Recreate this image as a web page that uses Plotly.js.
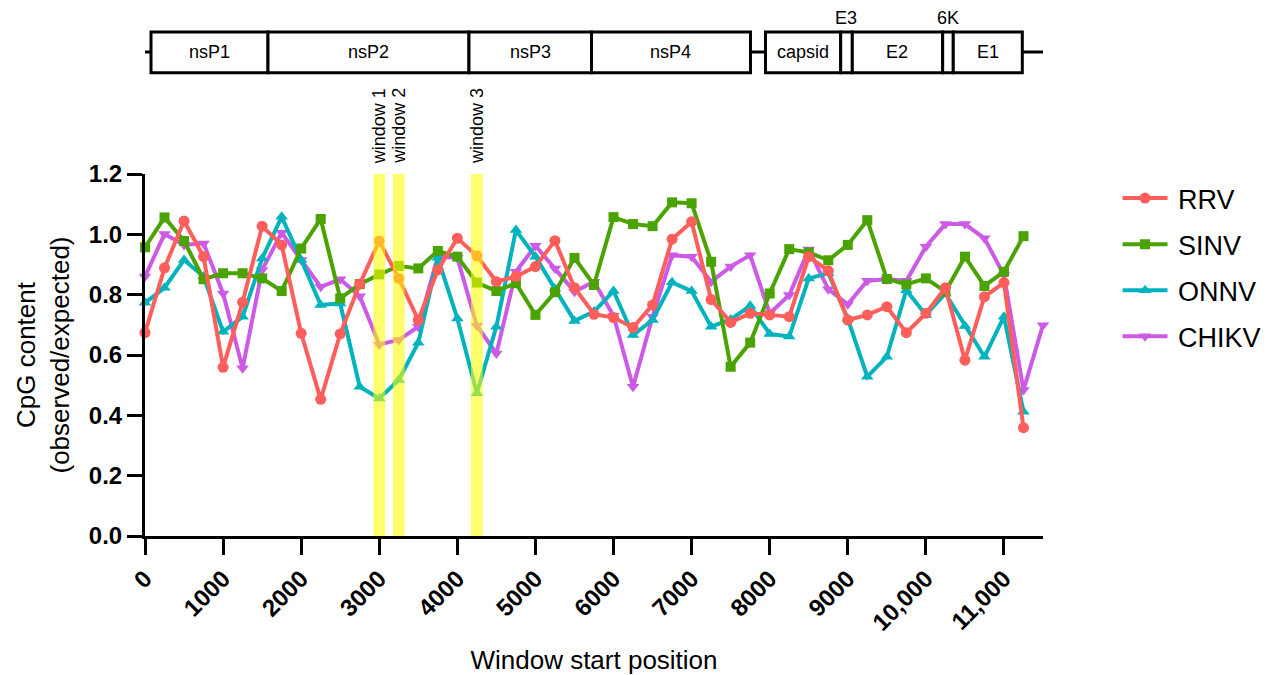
<!DOCTYPE html>
<html>
<head>
<meta charset="utf-8">
<script src="https://cdn.plot.ly/plotly-3.0.1.min.js"></script>
<style>html,body{margin:0;padding:0;background:#fff;}#chart{width:1284px;height:675px;}</style>
</head>
<body>
<div id="chart"></div>
<script>
// ---- data ----
const positions = [0,250,500,750,1000,1250,1500,1750,2000,2250,2500,2750,3000,3250,3500,3750,4000,4250,4500,4750,5000,5250,5500,5750,6000,6250,6500,6750,7000,7250,7500,7750,8000,8250,8500,8750,9000,9250,9500,9750,10000,10250,10500,10750,11000,11250];
const positionsCHIKV = [0,250,500,750,1000,1250,1500,1750,2000,2250,2500,2750,3000,3250,3500,3750,4000,4250,4500,4750,5000,5250,5500,5750,6000,6250,6500,6750,7000,7250,7500,7750,8000,8250,8500,8750,9000,9250,9500,9750,10000,10250,10500,10750,11000,11250,11500];

const RRV = [0.674,0.889,1.044,0.926,0.559,0.775,1.027,0.965,0.672,0.453,0.670,0.835,0.978,0.854,0.716,0.882,0.987,0.929,0.843,0.860,0.893,0.979,0.823,0.735,0.724,0.691,0.766,0.984,1.042,0.784,0.708,0.738,0.733,0.727,0.926,0.879,0.716,0.733,0.760,0.674,0.738,0.823,0.583,0.793,0.840,0.359];
const SINV = [0.957,1.056,0.978,0.851,0.871,0.871,0.854,0.812,0.953,1.051,0.788,0.835,0.867,0.895,0.887,0.945,0.926,0.840,0.812,0.838,0.733,0.808,0.922,0.832,1.057,1.034,1.027,1.106,1.103,0.909,0.561,0.641,0.804,0.951,0.940,0.914,0.965,1.047,0.852,0.834,0.854,0.810,0.926,0.829,0.876,0.994];
const ONNV = [0.773,0.823,0.915,0.860,0.677,0.727,0.920,1.058,0.915,0.766,0.771,0.495,0.456,0.517,0.641,0.922,0.721,0.473,0.694,1.014,0.926,0.820,0.713,0.744,0.812,0.666,0.716,0.841,0.812,0.694,0.718,0.763,0.670,0.661,0.854,0.871,0.720,0.528,0.594,0.815,0.733,0.804,0.696,0.594,0.727,0.412];
const CHIKV = [0.860,1.001,0.965,0.970,0.804,0.556,0.882,1.005,0.915,0.826,0.851,0.795,0.635,0.650,0.694,0.926,0.922,0.697,0.605,0.876,0.962,0.887,0.810,0.843,0.730,0.495,0.727,0.931,0.926,0.843,0.893,0.931,0.738,0.799,0.950,0.818,0.768,0.846,0.851,0.846,0.959,1.034,1.034,0.987,0.865,0.484,0.699];

const seriesNames = ['RRV','SINV','ONNV','CHIKV'];

const xTickVals = [0,1000,2000,3000,4000,5000,6000,7000,8000,9000,10000,11000];
const xTickText = ['0','1000','2000','3000','4000','5000','6000','7000','8000','9000','10,000','11,000'];

const windowNames = ['window 1','window 2','window 3'];
const windowStarts = [3000,3250,4250];
const windowWidth = 150;

// genome map segments (genome coordinates)
const geneNames  = ['nsP1','nsP2','nsP3','nsP4','capsid','E3','E2','6K','E1'];
const geneStarts = [77,1575,4149,5718,7946,8909,9058,10215,10351];
const geneEnds   = [1575,4149,5718,7754,8909,9058,10215,10351,11235];
const genomeStart = -40;
const genomeEnd = 11547;
const smallLabelGenes = ['E3','6K'];

// ---- styling ----
const FONT = 'Liberation Sans, Arial, Helvetica, sans-serif';
const colors = {RRV:'#FF5E5B', SINV:'#4AA300', ONNV:'#00B3BC', CHIKV:'#CC5AE6'};

function mk(name, xs, ys, symbol, size){
  return {
    x: xs, y: ys, name: '\u2009' + name, type: 'scatter', mode: 'lines+markers',
    legendgroup: name, legendrank: seriesNames.indexOf(name) + 1,
    cliponaxis: false,
    line: {color: colors[name], width: 4},
    marker: {color: colors[name], symbol: symbol, size: size}
  };
}
const traces = [
  mk('CHIKV', positionsCHIKV, CHIKV, 'triangle-down', 11),
  mk('ONNV', positions, ONNV, 'triangle-up', 11),
  mk('SINV', positions, SINV, 'square', 10),
  mk('RRV', positions, RRV, 'circle', 11)
];

const shapes = [];
const annotations = [];
const yTop = 1.392, yBot = 1.280, yMid = 1.337;

// backbone line
shapes.push({type:'line', xref:'x', yref:'paper', x0:genomeStart, x1:genomeEnd, y0:yMid, y1:yMid, line:{color:'black', width:3}, layer:'above'});
for (let i = 0; i < geneNames.length; i++) {
  shapes.push({type:'rect', xref:'x', yref:'paper', x0:geneStarts[i], x1:geneEnds[i], y0:yBot, y1:yTop, fillcolor:'white', line:{color:'black', width:3}, layer:'above'});
  const small = smallLabelGenes.includes(geneNames[i]);
  annotations.push({
    text: geneNames[i], xref:'x', yref:'paper', x:(geneStarts[i]+geneEnds[i])/2,
    y: small ? 1.432 : yMid, showarrow:false, yanchor:'middle',
    font:{family:FONT, size:18, color:'black'}
  });
}
// highlighted windows
for (let i = 0; i < windowStarts.length; i++) {
  shapes.push({type:'rect', xref:'x', yref:'y', x0:windowStarts[i]-windowWidth/2, x1:windowStarts[i]+windowWidth/2, y0:0, y1:1.2, fillcolor:'rgba(255,255,0,0.58)', line:{width:0}, layer:'above'});
  annotations.push({
    text: windowNames[i], xref:'x', yref:'paper', x:windowStarts[i], y:1.022,
    textangle:-90, showarrow:false, yanchor:'bottom', xanchor:'center',
    font:{family:FONT, size:18, color:'black'}
  });
}

const layout = {
  width: 1284, height: 675,
  margin: {l:145, r:241, t:174, b:139},
  paper_bgcolor: 'white', plot_bgcolor: 'white',
  font: {family: FONT, color: 'black'},
  showlegend: true,
  legend: {
    x: 1.083, xanchor: 'left', y: 1.0, yanchor: 'top',
    traceorder: 'grouped', tracegroupgap: 8, itemwidth: 45,
    font: {family: FONT, size: 27, color: 'black'}
  },
  xaxis: {
    range: [0, 11500], autorange: false,
    tickvals: xTickVals, ticktext: xTickText, tickangle: -45,
    tickfont: {family: FONT, size: 24, weight: 'bold', color: 'black'},
    showline: true, linecolor: 'black', linewidth: 3,
    ticks: 'outside', ticklen: 16, tickwidth: 3, tickcolor: 'black',
    showgrid: false, zeroline: false,
    title: {text: 'Window start position', font: {family: FONT, size: 26, color: 'black'}, standoff: 22},
    automargin: false
  },
  yaxis: {
    range: [0, 1.2], autorange: false, dtick: 0.2, tick0: 0, tickformat: '.1f',
    tickfont: {family: FONT, size: 24, weight: 'bold', color: 'black'},
    showline: true, linecolor: 'black', linewidth: 3,
    ticks: 'outside', ticklen: 15, tickwidth: 3, tickcolor: 'black',
    showgrid: false, zeroline: false,
    title: {text: 'CpG content<br>(observed/expected)', font: {family: FONT, size: 26, color: 'black'}, standoff: 12},
    automargin: false
  },
  shapes: shapes,
  annotations: annotations
};

Plotly.newPlot('chart', traces, layout, {displayModeBar: false, staticPlot: true});
</script>
</body>
</html>
